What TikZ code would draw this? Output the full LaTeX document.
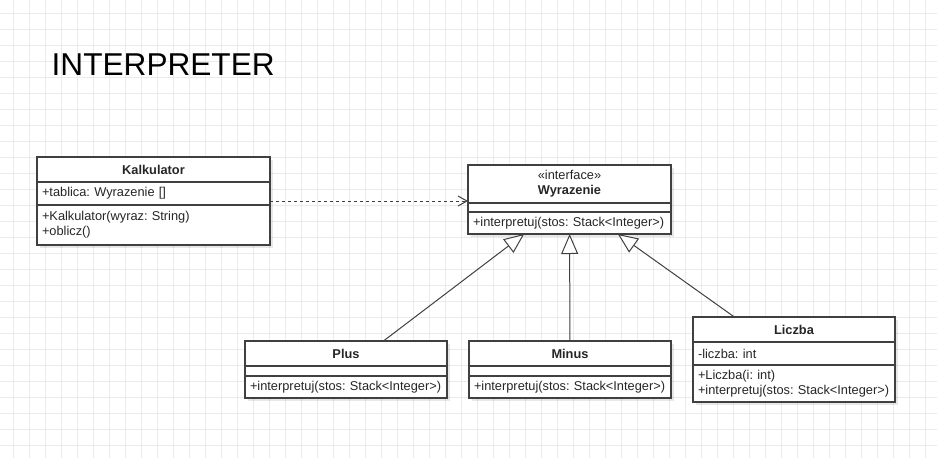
\documentclass[tikz,border=0pt]{standalone}
\usepackage{fontspec}
\setmainfont{Liberation Sans}
\usetikzlibrary{arrows.meta,shadows,fit}

\definecolor{umlline}{HTML}{404040}
\definecolor{gridgray}{HTML}{EBEBEB}
\newcommand{\umlfont}{\fontsize{12.8}{14.7}\selectfont\frenchspacing}

\tikzset{
	umlbox/.style={draw=umlline, line width=1.2pt, fill=white, anchor=north west, outer sep=0pt,
		inner xsep=5pt, inner ysep=0pt, text=black!85, font=\umlfont,
		drop shadow={shadow xshift=3pt, shadow yshift=-3pt, fill=black, opacity=0.09}},
	classname/.style={umlbox, align=center, font=\umlfont\bfseries},
	members/.style={umlbox, align=left, text width=#1},
	classfit/.style={inner sep=0pt, outer sep=0pt},
	realize/.style={draw=umlline, line width=1pt, dash pattern=on 3pt off 3pt,
		-{Straight Barb[length=9pt,width=10pt]}},
	inherit/.style={draw=umlline, line width=1pt, -{Triangle[open,length=20pt,width=17pt,fill=white]}},
}

\begin{document}
\begin{tikzpicture}[x=1pt,y=-1pt]
	\useasboundingbox (0,0) rectangle (937,458);
	% grid
	\foreach \k in {0,...,57} \draw[gridgray, line width=1pt] (13.3+16*\k,0) -- (13.3+16*\k,458);
	\foreach \k in {0,...,27} \draw[gridgray, line width=1pt] (0,13.3+16*\k) -- (937,13.3+16*\k);

	\node[anchor=base west, inner sep=0pt, font=\fontsize{31.6}{36}\selectfont] (title) at (51.5,75) {INTERPRETER};

	% Kalkulator
	\node[classname, minimum width=233pt, minimum height=25pt] (kalk-head) at (37,157) {Kalkulator};
	\node[members=223pt, minimum height=23pt] (kalk-attr) at (kalk-head.south west) {+tablica: Wyrazenie []};
	\node[members=223pt, minimum height=40pt] (kalk-ops) at (kalk-attr.south west) {+Kalkulator(wyraz: String)\\+oblicz()};
	\node[classfit, fit=(kalk-head)(kalk-ops)] (kalk) {};

	% Wyrazenie
	\node[classname, minimum width=203pt, minimum height=38pt, font=\umlfont] (wyr-head) at (468,165) {\guillemotleft interface\guillemotright\\\textbf{Wyrazenie}};
	\node[members=193pt, minimum height=9pt] (wyr-attr) at (wyr-head.south west) {};
	\node[members=193pt, minimum height=22pt] (wyr-ops) at (wyr-attr.south west) {+interpretuj(stos: Stack<Integer>)};
	\node[classfit, fit=(wyr-head)(wyr-ops)] (wyr) {};

	% Plus
	\node[classname, minimum width=202pt, minimum height=25pt] (plus-head) at (245,341) {Plus};
	\node[members=192pt, minimum height=10pt] (plus-attr) at (plus-head.south west) {};
	\node[members=192pt, minimum height=22pt] (plus-ops) at (plus-attr.south west) {+interpretuj(stos: Stack<Integer>)};
	\node[classfit, fit=(plus-head)(plus-ops)] (plus) {};

	% Minus
	\node[classname, minimum width=202pt, minimum height=25pt] (minus-head) at (469,341) {Minus};
	\node[members=192pt, minimum height=10pt] (minus-attr) at (minus-head.south west) {};
	\node[members=192pt, minimum height=22pt] (minus-ops) at (minus-attr.south west) {+interpretuj(stos: Stack<Integer>)};
	\node[classfit, fit=(minus-head)(minus-ops)] (minus) {};

	% Liczba
	\node[classname, minimum width=202pt, minimum height=25pt] (liczba-head) at (693,317) {Liczba};
	\node[members=192pt, minimum height=23pt] (liczba-attr) at (liczba-head.south west) {-liczba: int};
	\node[members=192pt, minimum height=37pt] (liczba-ops) at (liczba-attr.south west) {+Liczba(i: int)\\+interpretuj(stos: Stack<Integer>)};
	\node[classfit, fit=(liczba-head)(liczba-ops)] (liczba) {};

	\draw[realize] (kalk.east) -- (kalk.east -| wyr.west);
	\draw[inherit] (plus) -- (wyr);
	\draw[inherit] (minus) -- (wyr);
	\draw[inherit] (liczba) -- (wyr);
\end{tikzpicture}
\end{document}
